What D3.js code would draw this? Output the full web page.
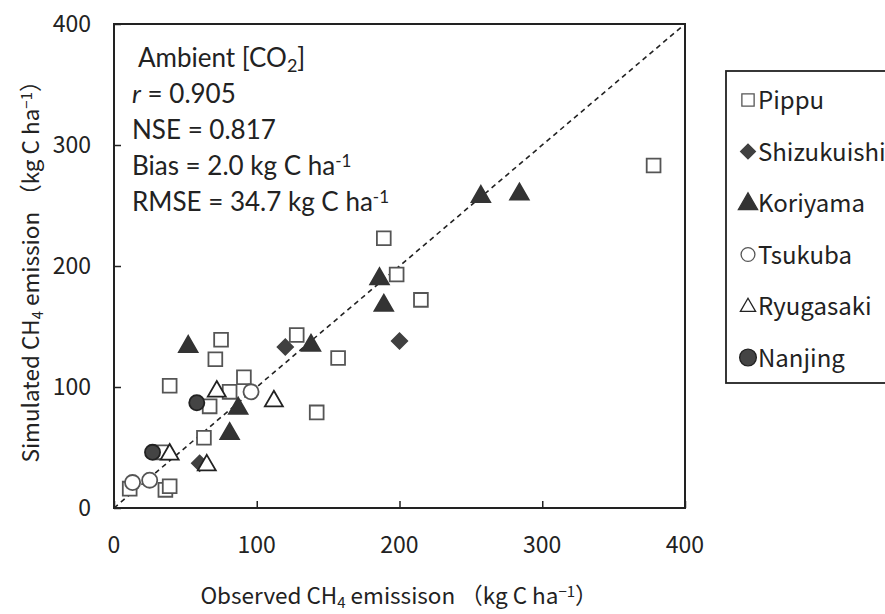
<!DOCTYPE html>
<html>
<head>
<meta charset="utf-8">
<script src="https://cdn.jsdelivr.net/npm/d3@7"></script>
<style>
  body { margin: 0; background: #fff; }
  svg text { fill: #222; }
</style>
</head>
<body>
<svg id="chart" width="885" height="614"></svg>
<script>
// site names, in the order Excel drew them
var siteNames = ["Pippu", "Shizukuishi", "Koriyama", "Tsukuba", "Ryugasaki", "Nanjing"];

// observed / simulated CH4 (kg C ha-1)
var pippuObs = [11, 36, 39, 33, 63, 67, 81, 91, 39, 71, 75, 128, 157, 142, 189, 198, 215, 378];
var pippuSim = [16, 15, 18, 46, 58, 84, 96, 108, 101, 123, 139, 143, 124, 79, 223, 193, 172, 283];
var shizuObs = [60, 120, 200];
var shizuSim = [37, 133, 138];
var koriObs = [52, 87, 81, 138, 186, 189, 257, 284];
var koriSim = [135, 84, 63, 136, 191, 169, 259, 261];
var tsukubaObs = [13, 25, 96];
var tsukubaSim = [21, 23, 96];
var ryugaObs = [72, 112, 39, 65];
var ryugaSim = [98, 90, 46, 37];
var nanjingObs = [58, 27];
var nanjingSim = [87, 46];

var xTicks = [0, 100, 200, 300, 400];
var yTicks = [0, 100, 200, 300, 400];

var statLines = ["r = 0.905", "NSE = 0.817", "Bias = 2.0 kg C ha-1", "RMSE = 34.7 kg C ha-1"];

var obsBySite = [pippuObs, shizuObs, koriObs, tsukubaObs, ryugaObs, nanjingObs];
var simBySite = [pippuSim, shizuSim, koriSim, tsukubaSim, ryugaSim, nanjingSim];

var jpFont = "'Noto Sans CJK JP', 'Noto Sans', sans-serif";
var txtFont = "Lato, 'Noto Sans', sans-serif";

var svg = d3.select("#chart");
var plotL = 114, plotR = 685, plotT = 24, plotB = 508;

var x = d3.scaleLinear().domain([0, 400]).range([plotL, plotR]);
var y = d3.scaleLinear().domain([0, 400]).range([plotB, plotT]);

// marker styles per site
var markerType = [d3.symbolSquare, d3.symbolSquare, d3.symbolTriangle, d3.symbolCircle, d3.symbolTriangle, d3.symbolCircle];
var markerSize = [190, 120, 150, 180, 140, 180];
var markerFill = ["#fff", "#404040", "#333", "#fff", "#fff", "#444"];
var markerStroke = ["#555", "#404040", "#333", "#555", "#222", "#222"];
var markerRotate = [0, 45, 0, 0, 0, 0];

// 1:1 line
svg.append("line")
    .attr("x1", x(0)).attr("y1", y(0))
    .attr("x2", x(400)).attr("y2", y(400))
    .attr("stroke", "#222")
    .attr("stroke-width", 1.6)
    .attr("stroke-dasharray", "5,4");

// axes (ticks point inward)
var xAxis = d3.axisBottom(x).tickValues(xTicks).tickSize(-7).tickFormat("");
var yAxis = d3.axisLeft(y).tickValues(yTicks).tickSize(-7).tickFormat("");
svg.append("g").attr("transform", "translate(0," + plotB + ")").call(xAxis)
    .call(function(g) { g.select(".domain").remove(); })
    .selectAll("line").attr("stroke", "#222").attr("stroke-width", 1.5);
svg.append("g").attr("transform", "translate(" + plotL + ",0)").call(yAxis)
    .call(function(g) { g.select(".domain").remove(); })
    .selectAll("line").attr("stroke", "#222").attr("stroke-width", 1.5);

svg.append("rect")
    .attr("x", plotL).attr("y", plotT)
    .attr("width", plotR - plotL).attr("height", plotB - plotT)
    .attr("fill", "none").attr("stroke", "#222").attr("stroke-width", 2);

// tick labels
svg.selectAll(".xlab").data(xTicks).enter().append("text")
    .attr("class", "xlab")
    .attr("x", function(d) { return x(d); })
    .attr("y", 553)
    .attr("text-anchor", "middle")
    .style("font-family", jpFont).style("font-size", "23px")
    .text(function(d) { return d; });
svg.selectAll(".ylab").data(yTicks).enter().append("text")
    .attr("class", "ylab")
    .attr("x", 91)
    .attr("y", function(d) { return y(d) + 8; })
    .attr("text-anchor", "end")
    .style("font-family", jpFont).style("font-size", "23px")
    .text(function(d) { return d; });

// axis titles
var xt = svg.append("text")
    .attr("x", 399).attr("y", 604)
    .attr("text-anchor", "middle")
    .style("font-family", jpFont).style("font-size", "22.5px");
xt.append("tspan").text("Observed CH");
xt.append("tspan").attr("baseline-shift", "-25%").style("font-size", "15px").text("4");
xt.append("tspan").text(" emissison \uFF08kg C ha");
xt.append("tspan").attr("baseline-shift", "45%").style("font-size", "15px").text("\u22121");
xt.append("tspan").text("\uFF09");

var yt = svg.append("text")
    .attr("transform", "translate(39,266) rotate(-90)")
    .attr("text-anchor", "middle")
    .style("font-family", jpFont).style("font-size", "22.5px");
yt.append("tspan").text("Simulated CH");
yt.append("tspan").attr("baseline-shift", "-25%").style("font-size", "15px").text("4");
yt.append("tspan").text(" emission \uFF08kg C ha");
yt.append("tspan").attr("baseline-shift", "45%").style("font-size", "15px").text("\u22121");
yt.append("tspan").text("\uFF09");

// points
siteNames.forEach(function(name, s) {
    var sym = d3.symbol().type(markerType[s]).size(markerSize[s]);
    svg.append("g").selectAll("path")
        .data(d3.range(obsBySite[s].length))
        .enter().append("path")
        .attr("d", sym)
        .attr("transform", function(i) {
            var dy = markerType[s] === d3.symbolTriangle ? 2 : 0;
            return "translate(" + x(obsBySite[s][i]) + "," + (y(simBySite[s][i]) + dy) + ") rotate(" + markerRotate[s] + ")";
        })
        .attr("fill", markerFill[s])
        .attr("stroke", markerStroke[s])
        .attr("stroke-width", 1.8);
});

// stats block
var ann = svg.append("g").style("font-family", txtFont).style("font-size", "26px");
var t0 = ann.append("text").attr("x", 138).attr("y", 67);
t0.append("tspan").text("Ambient [CO");
t0.append("tspan").attr("baseline-shift", "-25%").style("font-size", "18px").text("2");
t0.append("tspan").text("]");

statLines.forEach(function(line, i) {
    var t = ann.append("text").attr("x", 132).attr("y", 103 + i * 36);
    if (i === 0) {
        t.append("tspan").style("font-style", "italic").text("r");
        t.append("tspan").text(line.slice(1));
    }
    else if (line.slice(-2) === "-1") {
        t.append("tspan").text(line.slice(0, -2));
        t.append("tspan").attr("baseline-shift", "45%").style("font-size", "17px").text("-1");
    }
    else {
        t.text(line);
    }
});

// legend
svg.append("rect")
    .attr("x", 726).attr("y", 71)
    .attr("width", 200).attr("height", 312)
    .attr("fill", "#fff").attr("stroke", "#222").attr("stroke-width", 1.8);

var legendSize = [150, 110, 160, 150, 100, 220];
var lg = svg.append("g");
siteNames.forEach(function(name, s) {
    var ly = 100 + s * 51.5;
    var sym = d3.symbol().type(markerType[s]).size(legendSize[s]);
    lg.append("path")
        .attr("d", sym)
        .attr("transform", "translate(748," + (ly + (markerType[s] === d3.symbolTriangle ? 1 : 0)) + ") rotate(" + markerRotate[s] + ")")
        .attr("fill", markerFill[s])
        .attr("stroke", markerStroke[s])
        .attr("stroke-width", 1.3);
    lg.append("text")
        .attr("x", 758).attr("y", ly + 9)
        .style("font-family", jpFont).style("font-size", "24px")
        .text(name);
});
</script>
</body>
</html>
